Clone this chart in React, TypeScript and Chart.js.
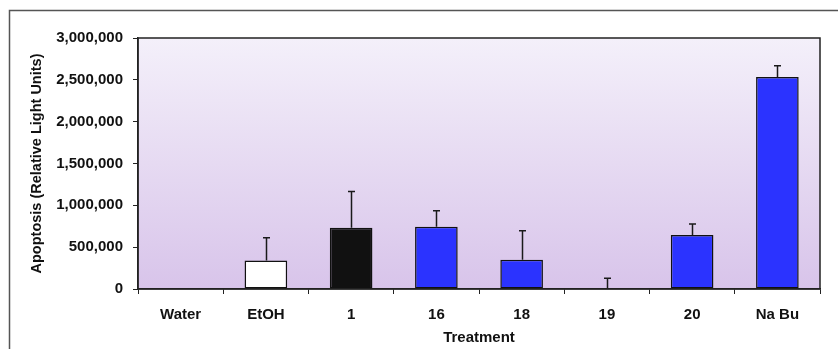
import React, { useEffect, useRef } from "react";
import { Chart, registerables } from "chart.js";
Chart.register(...registerables);

const categories = ["Water", "EtOH", "1", "16", "18", "19", "20", "Na Bu"];
const values = [0, 340000, 732000, 745000, 350000, 0, 645000, 2535000];
const errors = [0, 274000, 434000, 190000, 346000, 128000, 132000, 132000];
const barColors = ["#ffffff", "#ffffff", "#111111", "#2b33ff", "#2b33ff", "#2b33ff", "#2b33ff", "#2b33ff"];
const yMax = 3000000;
const yStep = 500000;
const yTitle = "Apoptosis (Relative Light Units)";
const xTitle = "Treatment";

const FONT = "'Liberation Sans', Arial, Helvetica, sans-serif";

export default function App() {
  const ref = useRef<HTMLCanvasElement | null>(null);
  useEffect(() => {
    if (!ref.current) return;
    const bgPlugin = {
      id: "bg",
      beforeDraw(chart: any) {
        const { ctx, chartArea: a } = chart;
        ctx.save();
        ctx.fillStyle = "#ffffff";
        ctx.fillRect(0, 0, chart.width, chart.height);
        ctx.strokeStyle = "#555555";
        ctx.lineWidth = 1.5;
        ctx.strokeRect(9.5, 10.5, 1000, 1000);
        const g = ctx.createLinearGradient(0, a.top, 0, a.bottom);
        g.addColorStop(0, "#f4f0fa");
        g.addColorStop(1, "#d8c4ea");
        ctx.fillStyle = g;
        ctx.fillRect(a.left, a.top, a.right - a.left, a.bottom - a.top);
        ctx.restore();
      },
      afterDatasetsDraw(chart: any) {
        const { ctx, chartArea: a } = chart;
        const meta = chart.getDatasetMeta(0);
        const ys = chart.scales.y;
        ctx.save();
        ctx.strokeStyle = "#1a1a1a";
        ctx.lineWidth = 1.5;
        meta.data.forEach((bar: any, i: number) => {
          if (!errors[i]) return;
          const x = Math.round(bar.x) + 0.5;
          const y0 = ys.getPixelForValue(values[i]);
          const y1 = ys.getPixelForValue(values[i] + errors[i]);
          ctx.beginPath();
          ctx.moveTo(x, y0);
          ctx.lineTo(x, y1);
          ctx.moveTo(x - 3.5, y1);
          ctx.lineTo(x + 3.5, y1);
          ctx.stroke();
        });
        ctx.strokeStyle = "#222222";
        ctx.lineWidth = 1.5;
        ctx.strokeRect(a.left, a.top, a.right - a.left, a.bottom - a.top);
        ctx.restore();
      },
    };
    const chart = new Chart(ref.current, {
      type: "bar",
      data: {
        labels: categories,
        datasets: [
          {
            data: values,
            backgroundColor: barColors,
            borderColor: "#111111",
            borderWidth: values.map((v) => (v > 0 ? 1.5 : 0)),
            borderSkipped: false,
            barPercentage: 0.5,
            categoryPercentage: 1,
          },
        ],
      },
      options: {
        responsive: false,
        animation: false,
        layout: { padding: { top: 38, right: 18, left: 0, bottom: 0 } },
        plugins: { legend: { display: false }, tooltip: { enabled: false } },
        scales: {
          x: {
            afterFit(s: any) {
              s.height = 60;
            },
            grid: { display: true, drawOnChartArea: false, drawTicks: true, tickLength: 5, tickColor: "#222", offset: true },
            border: { display: true, color: "#222", width: 1.5 },
            ticks: { color: "#111", padding: 12, font: { family: FONT, size: 15, weight: "bold" } },
            title: { display: true, text: xTitle, color: "#111", padding: { top: 0, bottom: 2 }, font: { family: FONT, size: 15, weight: "bold" } },
          },
          y: {
            min: 0,
            max: yMax,
            afterFit(s: any) {
              s.width = 138;
            },
            grid: { display: true, drawOnChartArea: false, drawTicks: true, tickLength: 5, tickColor: "#222" },
            border: { display: true, color: "#222", width: 1.5 },
            ticks: {
              stepSize: yStep,
              color: "#111",
              padding: 10,
              font: { family: FONT, size: 15, weight: "bold" },
              callback: (v: any) => Number(v).toLocaleString("en-US"),
            },
            title: { display: true, text: yTitle, color: "#111", padding: { top: 28, bottom: 0 }, font: { family: FONT, size: 14.5, weight: "bold" } },
          },
        },
      },
      plugins: [bgPlugin],
    });
    return () => chart.destroy();
  }, []);
  return (
    <div style={{ position: "fixed", left: 0, top: 0, width: 838, height: 349, background: "#fff" }}>
      <canvas ref={ref} width={838} height={349} />
    </div>
  );
}
